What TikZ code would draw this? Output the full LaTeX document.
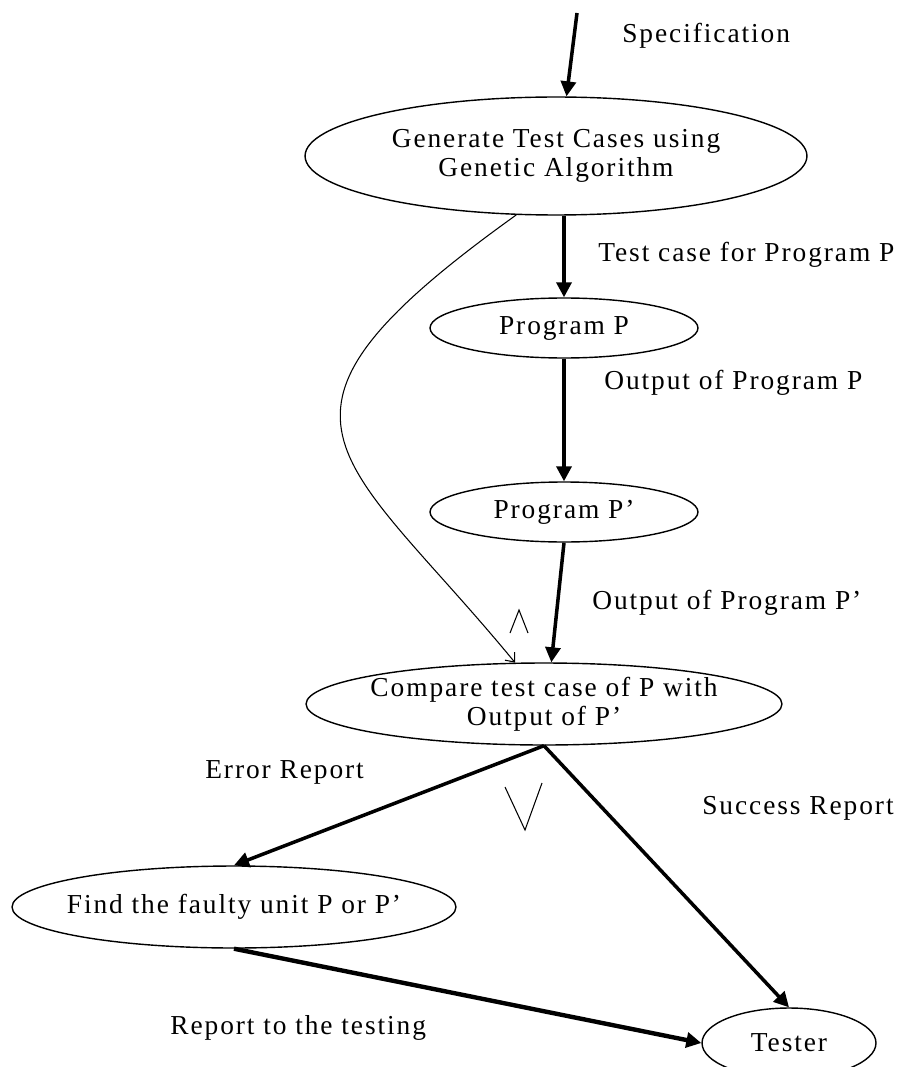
\documentclass[tikz,border=0pt]{standalone}
\usepackage{fontspec}
\setmainfont{Liberation Serif}
\usetikzlibrary{arrows,arrows.meta,shapes.geometric}

\begin{document}
\begin{tikzpicture}[x=0.02cm, y=-0.02cm,
  box/.style={ellipse, draw, line width=0.8pt, inner sep=0pt, align=center,
    font=\fontsize{15.6}{16.5}\selectfont\addfontfeatures{LetterSpace=7}},
  flow/.style={-{Triangle[length=3mm,width=3mm]}, line width=2pt},
  lbl/.style={anchor=west, inner sep=0pt,
    font=\fontsize{15.6}{17}\selectfont\addfontfeatures{LetterSpace=7}}]
  \useasboundingbox (0,0) rectangle (902,1067);

  % ellipses
  \node[box, minimum width=10.04cm, minimum height=2.36cm] (gen) at (556,156) {Generate Test Cases using\\Genetic Algorithm};
  \node[box, minimum width=5.36cm, minimum height=1.2cm] (progp) at (564,328) {Program P};
  \node[box, minimum width=5.36cm, minimum height=1.2cm] (progq) at (564,512) {Program P’};
  \node[box, minimum width=9.52cm, minimum height=1.64cm, inner xsep=-1cm] (cmp) at (544,704) {Compare test case of P with\\Output of P’};
  \node[box, minimum width=8.88cm, minimum height=1.64cm, inner xsep=-1cm] (find) at (234,907) {Find the faulty unit P or P’};
  \node[box, minimum width=3.48cm, minimum height=1.4cm] (tester) at (789,1043) {Tester};

  \coordinate (spec) at (577,13);

  % arrows
  \draw[flow] (spec) -- (gen.80);
  \draw[flow] (gen.south -| progp.north) -- (progp.north);
  \draw[flow] (progp.south) -- (progq.north);
  \draw[flow] (progq.south) -- (cmp.80);
  \draw[flow] (cmp.south) -- (find.north);
  \draw[flow] (cmp.south) -- (tester.north);
  \draw[flow, line width=2.5pt] (find.south) -- (tester.west);
  \draw[line width=0.6pt, -{Straight Barb[length=1.5mm,width=2.5mm]}] (gen.236) .. controls (230,420) and (340,450) .. (cmp.125);

  % stray marks
  \draw[line width=0.6pt] (510,633) -- (519,610) -- (528,633);
  \draw[line width=0.6pt] (505,787) -- (525,830) -- (542,783);

  % labels
  \node[lbl] (lspec) at (622,36) {Specification};
  \node[lbl] (ltest) at (598,255) {Test case for Program P};
  \node[lbl] (lout) at (604,383) {Output of Program P};
  \node[lbl] (loutq) at (592,603) {Output of Program P'};
  \node[lbl] (lerr) at (205,772) {Error Report};
  \node[lbl] (lsucc) at (702,808) {Success Report};
  \node[lbl] (lrep) at (170,1028) {Report to the testing};

\end{tikzpicture}
\end{document}
